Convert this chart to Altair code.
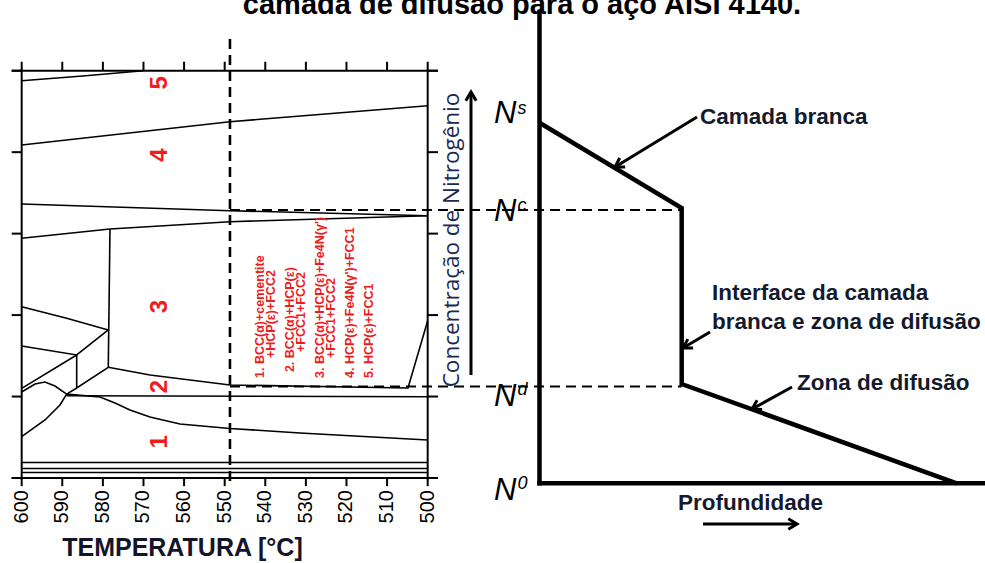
import math
import altair as alt
import pandas as pd

# ---------------- canvas / scale domains ----------------
W, H = 985, 563
T_DOMAIN = [605.34, 362.73]      # temperature (°C), left panel (reversed)
D_DOMAIN = [-129.31, 106.78]     # depth (profundidade, arbitrary 0-100), right panel
V_DOMAIN = [-20.87, 117.36]      # nitrogen concentration (arbitrary, frame 0-100)
PX_PER_D = W / (D_DOMAIN[1] - D_DOMAIN[0])
PX_PER_V = H / (V_DOMAIN[1] - V_DOMAIN[0])

# ---------------- left panel data ----------------
temp_ticks = [600, 590, 580, 570, 560, 550, 540, 530, 520, 510, 500]
conc_ticks = [0, 20, 40, 60, 80, 100]
nitriding_temp = 548.7
xlabel_text = "TEMPERATURA [°C]"

line_A = [(600, 97.54), (585, 98.7), (570.05, 100)]
line_B = [(600, 81.76), (548.69, 87.48), (500, 91.41)]
line_C = [(600, 67.27), (548.69, 65.63), (500, 64.4)]
line_D = [(600, 58.85), (578.25, 61.13), (548.69, 62.93), (500, 64.4)]
line_E = [(578.25, 61.13), (578.67, 27.1)]
line_F = [(600, 42.06), (588.92, 39.21), (578.67, 36.34)]
line_G = [(600, 32.41), (586.45, 30.2), (578.67, 36.34)]
line_K = [(600, 22.02), (586.45, 30.2), (586.45, 22.1), (578.67, 27.18)]
line_H = [(578.67, 27.18), (568.4, 25.29), (548.69, 22.83), (504.85, 22.1), (500, 38.6)]
line_I = [(600, 21.11), (596.72, 23.08), (594.26, 23.57), (591.8, 22.59), (588.92, 20.6), (586.45, 22.1)]
line_L = [(600, 10.14), (594.26, 14.24), (590.57, 17.92), (588.92, 20.6)]
line_N = [(588.92, 20.6), (580.71, 19.89), (577.02, 18.41), (573.33, 16.7), (568.4, 14.98),
          (561.01, 13.26), (548.69, 12.15), (531.45, 11.05), (500, 9.33)]
line_J = [(588.92, 20.2), (500, 19.96)]
line_b1 = [(600, 3.81), (500, 3.81)]
line_b2 = [(600, 2.33), (500, 2.33)]
line_b3 = [(600, 1.35), (500, 1.35)]
phase_lines = {"A": line_A, "B": line_B, "C": line_C, "D": line_D, "E": line_E,
               "F": line_F, "G": line_G, "K": line_K, "H": line_H, "I": line_I,
               "L": line_L, "N": line_N, "J": line_J, "b1": line_b1, "b2": line_b2,
               "b3": line_b3}

region_labels = ["5", "4", "3", "2", "1"]
region_conc = [97.05, 79.3, 42.06, 22.42, 8.91]
region_temp = 566.0

legend_lines = ["1. BCC(α)+cementite", "+HCP(ε)+FCC2", "2. BCC(α)+HCP(ε)", "+FCC1+FCC2",
                "3. BCC(α)+HCP(ε)+Fe4N(γ')", "+FCC1+FCC2", "4. HCP(ε)+Fe4N(γ')+FCC1",
                "5. HCP(ε)+FCC1"]
legend_temp = [541.3, 538.6, 533.9, 531.2, 526.5, 523.8, 519.1, 514.5]
legend_conc = [24.55, 29.46, 26.0, 30.94, 24.55, 29.46, 24.55, 24.55]

# ---------------- right panel data ----------------
profile_depth = [0, 34.08, 34.08, 100]
profile_conc = [87.23, 66.29, 23.08, -1.30]
axis_top_conc = 114.49
axis_end_depth = 106.78
level_c = 65.80
level_d = 22.47
level_0 = -1.30
dash_start_depth = -74.18

n_labels = ["s", "c", "d", "0"]
n_base = [87.11, 63.10, 17.68, -5.40]
n_sup = [89.37, 65.55, 20.38, -2.70]
n_depth = -10.9
n_sup_depth = -5.3

notes = ["Camada branca", "Interface da camada", "branca e zona de difusão",
         "Zona de difusão", "Profundidade"]
notes_depth = [38.47, 41.35, 41.35, 61.72, 33.2]
notes_conc = [88.63, 45.42, 38.30, 23.32, -6.14]

arrow_names = ["camada", "interface", "zona", "conc", "prof"]
arrow_x1 = [37.75, 40.87, 60.52, -16.42, 39.19]
arrow_y1 = [88.63, 35.85, 22.34, 25.29, -11.29]
arrow_x2 = [18.10, 34.40, 50.94, -16.42, 61.72]
arrow_y2 = [76.36, 31.92, 16.94, 94.77, -11.29]

title_text = "camada de difusão para o aço AISI 4140."
ylabel_text = "Concentração de Nitrogênio"

# ---------------- scales ----------------
xT = alt.Scale(domain=T_DOMAIN, nice=False, zero=False)
xD = alt.Scale(domain=D_DOMAIN, nice=False, zero=False)
yV = alt.Scale(domain=V_DOMAIN, nice=False, zero=False)

def XT(f="T"):
    return alt.X(f"{f}:Q", scale=xT, axis=None)

def XD(f="d"):
    return alt.X(f"{f}:Q", scale=xD, axis=None)

def YV(f="v"):
    return alt.Y(f"{f}:Q", scale=yV, axis=None)

# ---------------- left panel layers ----------------
frame_df = pd.DataFrame({
    "T": [602.46, 602.46, 600, 500],
    "T2": [497.46, 497.46, 600, 500],
    "v": [100, 0, -0.3, -0.3],
    "v2": [100, 0, 100.3, 100.3],
})
frame = alt.Chart(frame_df).mark_rule(color="black", strokeWidth=2).encode(
    x=XT("T"), x2="T2:Q", y=YV("v"), y2="v2:Q")

tick_rows = []
for t in temp_ticks:
    tick_rows.append({"T": t, "T2": t, "v": 100, "v2": 102.2})
    tick_rows.append({"T": t, "T2": t, "v": 0, "v2": -2.0})
for c in conc_ticks:
    tick_rows.append({"T": 602.46, "T2": 600, "v": c, "v2": c})
    tick_rows.append({"T": 500, "T2": 497.46, "v": c, "v2": c})
ticks = alt.Chart(pd.DataFrame(tick_rows)).mark_rule(color="black", strokeWidth=2).encode(
    x=XT("T"), x2="T2:Q", y=YV("v"), y2="v2:Q")

tick_labels = alt.Chart(pd.DataFrame({"T": temp_ticks, "v": [-2.95] * len(temp_ticks),
                                      "t": [str(t) for t in temp_ticks]})).mark_text(
    color="black", fontSize=20, font="Liberation Sans", angle=270, align="right",
    baseline="middle").encode(x=XT("T"), y=YV("v"), text="t:N")

xlabel = alt.Chart(pd.DataFrame({"T": [560.4], "v": [-17.3], "t": [xlabel_text]})).mark_text(
    color="#15152a", fontSize=25, font="Liberation Sans", fontWeight="bold",
    align="center", baseline="middle").encode(x=XT("T"), y=YV("v"), text="t:N")

rows = []
for name, pts in phase_lines.items():
    for i, (t, v) in enumerate(pts):
        rows.append({"line": name, "order": i, "T": t, "v": v})
phase = alt.Chart(pd.DataFrame(rows)).mark_line(color="black", strokeWidth=1.6).encode(
    x=XT("T"), y=YV("v"), detail="line:N", order="order:Q")

vdash = alt.Chart(pd.DataFrame({"T": [nitriding_temp], "v": [-0.74], "v2": [108.8]})).mark_rule(
    color="black", strokeWidth=2.6, strokeDash=[10, 6]).encode(x=XT("T"), y=YV("v"), y2="v2:Q")

regions = alt.Chart(pd.DataFrame({"T": [region_temp] * 5, "v": region_conc, "t": region_labels})).mark_text(
    color="#ee1c1c", fontSize=24, font="Liberation Sans", fontWeight="bold", angle=270,
    align="center", baseline="middle").encode(x=XT("T"), y=YV("v"), text="t:N")

legend = alt.Chart(pd.DataFrame({"T": legend_temp, "v": legend_conc, "t": legend_lines})).mark_text(
    color="#ee1c1c", fontSize=12.5, font="Liberation Sans", fontWeight="bold", angle=270,
    align="left", baseline="middle").encode(x=XT("T"), y=YV("v"), text="t:N")

left = alt.layer(frame, ticks, tick_labels, xlabel, phase, vdash, regions, legend)

# ---------------- right panel layers ----------------
axes_df = pd.DataFrame({"d": [0, 0], "d2": [0, axis_end_depth],
                        "v": [level_0, level_0], "v2": [axis_top_conc, level_0]})
r_axes = alt.Chart(axes_df).mark_rule(color="black", strokeWidth=4.5, strokeCap="square").encode(
    x=XD("d"), x2="d2:Q", y=YV("v"), y2="v2:Q")

prof_df = pd.DataFrame({"d": profile_depth, "v": profile_conc, "o": list(range(len(profile_depth)))})
profile = alt.Chart(prof_df).mark_line(color="black", strokeWidth=4.5, strokeJoin="miter").encode(
    x=XD("d"), y=YV("v"), order="o:Q")

hd_df = pd.DataFrame({"d": [dash_start_depth] * 2, "d2": [profile_depth[1]] * 2,
                      "v": [level_c, level_d]})
hdash = alt.Chart(hd_df).mark_rule(color="black", strokeWidth=2, strokeDash=[10, 6]).encode(
    x=XD("d"), x2="d2:Q", y=YV("v"), y2="v:Q")

nN = alt.Chart(pd.DataFrame({"d": [n_depth] * 4, "v": n_base, "t": ["N"] * 4})).mark_text(
    color="black", fontSize=31, font="Liberation Sans", fontStyle="italic", align="left",
    baseline="alphabetic").encode(x=XD("d"), y=YV("v"), text="t:N")
nS = alt.Chart(pd.DataFrame({"d": [n_sup_depth] * 4, "v": n_sup, "t": n_labels})).mark_text(
    color="black", fontSize=18, font="Liberation Sans", fontStyle="italic", align="left",
    baseline="alphabetic").encode(x=XD("d"), y=YV("v"), text="t:N")

notes_layer = alt.Chart(pd.DataFrame({"d": notes_depth, "v": notes_conc, "t": notes})).mark_text(
    color="#141a2e", fontSize=22.5, font="Liberation Sans", fontWeight="bold", align="left",
    baseline="middle").encode(x=XD("d"), y=YV("v"), text="t:N")

ylabel = alt.Chart(pd.DataFrame({"d": [-21.05], "v": [58.43], "t": [ylabel_text]})).mark_text(
    color="#1a2a50", fontSize=22.5, font="Open Sans", angle=270, align="center",
    baseline="middle").encode(x=XD("d"), y=YV("v"), text="t:N")

title = alt.Chart(pd.DataFrame({"d": [-4.2], "v": [113.9], "t": [title_text]})).mark_text(
    color="black", fontSize=29, font="Liberation Sans", fontWeight="bold", align="center",
    baseline="alphabetic").encode(x=XD("d"), y=YV("v"), text="t:N")


def head_angle(x1, y1, x2, y2):
    dx = (x2 - x1) * PX_PER_D
    dy = -(y2 - y1) * PX_PER_V
    return math.degrees(math.atan2(dx, -dy)) % 360

arr_df = pd.DataFrame({"name": arrow_names, "d": arrow_x1, "v": arrow_y1,
                       "d2": arrow_x2, "v2": arrow_y2})
arr_df["ang"] = [head_angle(a, b, c, e) for a, b, c, e in
                 zip(arrow_x1, arrow_y1, arrow_x2, arrow_y2)]
arr_lines = alt.Chart(arr_df).mark_rule(color="black", strokeWidth=3).encode(
    x=XD("d"), x2="d2:Q", y=YV("v"), y2="v2:Q")
arr_heads = alt.Chart(arr_df).mark_point(
    shape="M-0.6,1L0,0L0.6,1", filled=False, color="black", strokeWidth=3, opacity=1,
    size=300).encode(x=XD("d2"), y=YV("v2"), angle=alt.Angle("ang:Q", scale=None))

right = alt.layer(hdash, r_axes, profile, nN, nS, notes_layer, ylabel, title, arr_lines, arr_heads)

chart = alt.layer(left, right).resolve_scale(x="independent").properties(
    width=W, height=H, padding=0, autosize="none", background="white"
).configure_view(stroke=None)

chart.save("out.html", embed_options={"renderer": "svg", "actions": False})
